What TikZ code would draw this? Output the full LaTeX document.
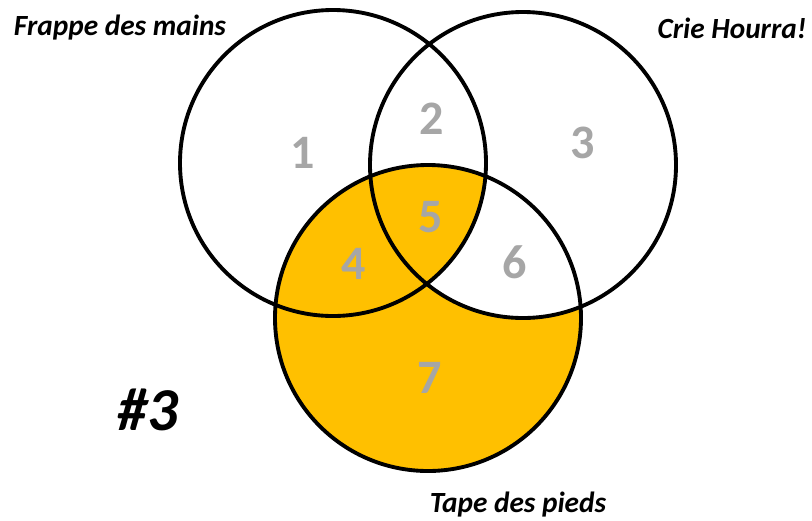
\documentclass[tikz,border=0pt]{standalone}
\usepackage{fontspec}
\setmainfont{Carlito}
\definecolor{gold}{HTML}{FFC000}
\begin{document}
\begin{tikzpicture}[x=0.03cm,y=-0.03cm,set/.style={line width=3.3pt},region/.style={font=\fontsize{41}{41}\selectfont\bfseries,text=gray!70},title/.style={font=\fontsize{25}{25}\selectfont\bfseries\itshape}]
          \useasboundingbox (0,0) rectangle (812,520);
          \coordinate (hands) at (333,163);
          \coordinate (hurrah) at (523,165);
          \coordinate (feet) at (428,318);
          % shaded part: feet without (hurrah but not hands)
          \fill[gold] (feet) circle[radius=153];
          \begin{scope}
            \clip (feet) circle[radius=153];
            \fill[white] (hurrah) circle[radius=153];
            \clip (hurrah) circle[radius=153];
            \fill[gold] (hands) circle[radius=153];
          \end{scope}
          \draw[set] (hands) circle[radius=153];
          \draw[set] (hurrah) circle[radius=153];
          \draw[set] (feet) circle[radius=153];
          \node[region] (r1) at (303,153) {1};
          \node[region] (r2) at (432,119) {2};
          \node[region] (r3) at (583,143) {3};
          \node[region] (r4) at (354,264) {4};
          \node[region] (r5) at (431,217) {5};
          \node[region] (r6) at (515,262) {6};
          \node[region] (r7) at (430,378) {7};
          \node[title] (lhands) at (120,28) {Frappe des mains};
          \node[title] (lhurrah) at (732,28) {Crie Hourra!};
          \node[title] (lfeet) at (518,505) {Tape des pieds};
          \node[font=\fontsize{52}{52}\selectfont\bfseries\itshape] (num) at (148,410) {\#3};
        \end{tikzpicture}
\end{document}
